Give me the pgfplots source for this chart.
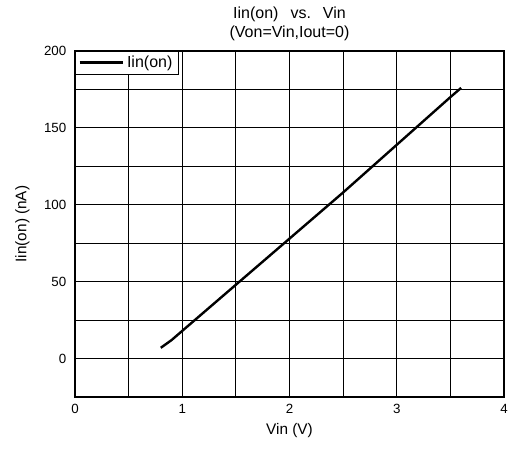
\documentclass[border=0pt]{standalone}
\usepackage{fontspec}
\setmainfont{Liberation Sans}
\usepackage{pgfplots}
\pgfplotsset{compat=1.18}
\usetikzlibrary{calc}
\begin{document}
\begin{tikzpicture}
\begin{axis}[
  scale only axis,
  width=321.75pt, height=259.5pt,
  xmin=0, xmax=4, ymin=-25, ymax=200,
  xtick={0,1,2,3,4}, ytick={0,50,100,150,200},
  minor xtick={0.5,1.5,2.5,3.5},
  minor ytick={-25,25,75,125,175},
  grid=both,
  major grid style={black, line width=0.6pt},
  minor grid style={black, line width=0.6pt},
  axis line style={black, line width=0.8pt},
  major tick length=0pt, minor tick length=0pt,
  /pgf/number format/assume math mode=true,
  tick label style={font=\fontsize{10}{12}\selectfont},
  xticklabel style={yshift=-2pt},
  yticklabel style={xshift=-3pt},
  xlabel={Vin (V)},
  ylabel={Iin(on) (nA)},
  label style={font=\fontsize{11.5}{13}\selectfont},
  ylabel style={yshift=4pt},
  title={Iin(on)\hspace{0.75em}vs.\hspace{0.75em}Vin\\(Von=Vin,Iout=0)},
  title style={align=center, font=\fontsize{12}{14.5}\selectfont, yshift=-2pt},
  legend cell align=left,
  legend style={at={(0,1)}, anchor=north west, draw=black, line width=0.6pt, fill=white,
    inner xsep=2.5pt, inner ysep=1.5pt, outer sep=0pt, font=\fontsize{12}{14}\selectfont},
  legend image code/.code={\draw[black, line width=1.8pt] (0cm,0cm) -- (1.15cm,0cm);},
]
\addplot[black, line width=1.8pt] coordinates {
(0.8,7) (0.9,12) (1.0,18) (1.1,24) (1.2,30) (1.5,48) (2.0,78) (2.5,108) (3.0,139) (3.5,170) (3.6,176)
};
\addlegendentry{Iin(on)}
\end{axis}
\pgfresetboundingbox
\path ($(current axis.south west)+(-56.25pt,-41.25pt)$) rectangle ($(current axis.north east)+(3pt,38.25pt)$);
\end{tikzpicture}
\end{document}
